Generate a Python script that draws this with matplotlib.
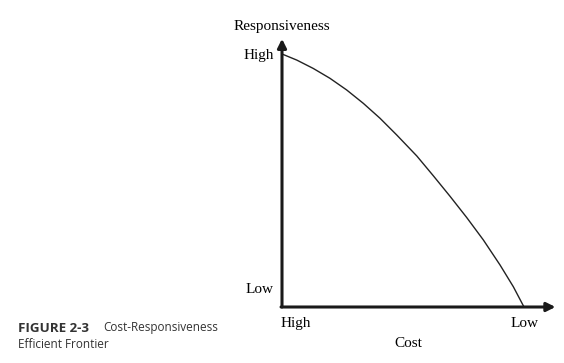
import matplotlib.pyplot as plt

# points (cost axis: 0 = high cost, 1 = low cost)
cost = [0.0, 0.061, 0.129, 0.198, 0.267, 0.336, 0.405, 0.474, 0.557,
        0.625, 0.694, 0.763, 0.832, 0.901, 0.956, 1.0]
responsiveness = [1.0, 0.976, 0.943, 0.904, 0.858, 0.805, 0.746, 0.680, 0.597,
                  0.519, 0.438, 0.354, 0.265, 0.166, 0.080, 0.0]

serif = ['Liberation Serif', 'DejaVu Serif']
sans = ['Open Sans', 'DejaVu Sans']

fig = plt.figure(figsize=(5.64, 3.63), dpi=100)
ax = fig.add_axes([282 / 564, 56 / 363, 242 / 564, 253 / 363])
ax.set_xlim(0, 1)
ax.set_ylim(0, 1)
ax.axis('off')

# frontier curve
ax.plot(cost, responsiveness, color='#222222', lw=1.0, clip_on=False,
        solid_joinstyle='round')

# axes with arrows
arrow = dict(arrowstyle='-|>', color='#1a1a1a', lw=2.2, mutation_scale=13,
             shrinkA=0, shrinkB=0)
ax.annotate('', xy=(0, 1.06), xytext=(0, 0), arrowprops=arrow, annotation_clip=False)
ax.annotate('', xy=(1.13, 0), xytext=(-0.004, 0), arrowprops=arrow, annotation_clip=False)

# axis labels
ax.text(0.0, 1.11, 'Responsiveness', family=serif, fontsize=11, ha='center', va='center')
ax.text(-0.035, 0.995, 'High', family=serif, fontsize=11, ha='right', va='center')
ax.text(-0.035, 0.07, 'Low', family=serif, fontsize=11, ha='right', va='center')
ax.text(0.055, -0.065, 'High', family=serif, fontsize=11, ha='center', va='center')
ax.text(1.004, -0.065, 'Low', family=serif, fontsize=11, ha='center', va='center')
ax.text(0.52, -0.145, 'Cost', family=serif, fontsize=11, ha='center', va='center')

# caption
fig.text(18 / 564, 1 - 328 / 363, 'FIGURE 2-3', family=sans, fontsize=9.6,
         fontweight='bold', color='#333333', va='center')
fig.text(103 / 564, 1 - 328 / 363, 'Cost-Responsiveness', family=sans, fontsize=8.5,
         color='#333333', va='center')
fig.text(18 / 564, 1 - 344 / 363, 'Efficient Frontier', family=sans, fontsize=8.5,
         color='#333333', va='center')

fig.savefig('out.png', dpi=100)
